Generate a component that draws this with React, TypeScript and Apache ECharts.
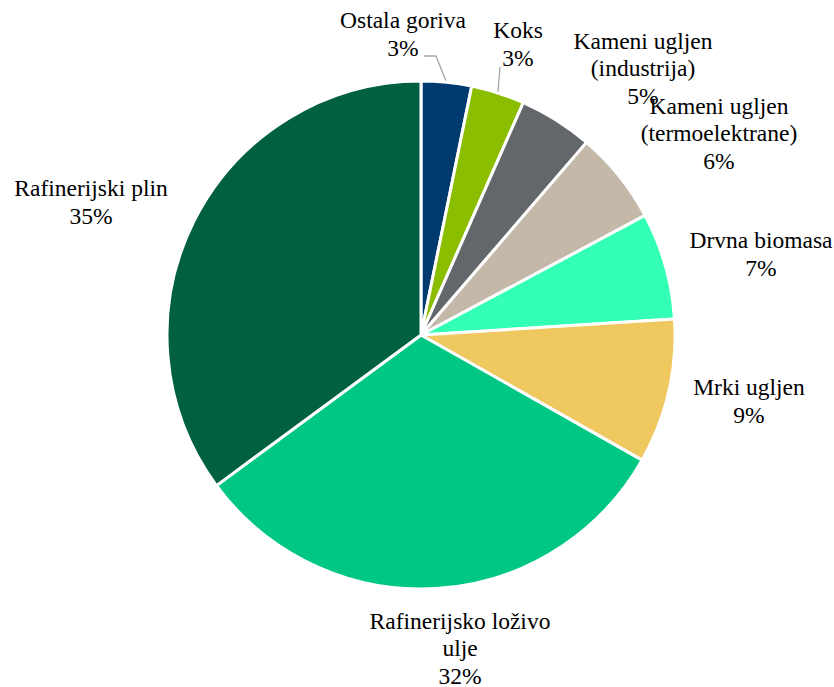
import React, { useEffect, useRef } from "react";
import * as echarts from "echarts";

const categories = [
  "Ostala goriva",
  "Koks",
  "Kameni ugljen\n(industrija)",
  "Kameni ugljen\n(termoelektrane)",
  "Drvna biomasa",
  "Mrki ugljen",
  "Rafinerijsko loživo\nulje",
  "Rafinerijski plin",
];
const values = [3.2, 3.4, 4.7, 5.9, 6.8, 9.2, 31.7, 35.1];
const colors = [
  "#003A6E",
  "#8CBE00",
  "#63666A",
  "#C4B8A9",
  "#33FFB5",
  "#F0C860",
  "#00C882",
  "#006040",
];
const showLine = [true, true, false, false, false, false, false, false];
// label anchor positions (layout, not data)
const labelPos: [number, number][] = [
  [403, 34],
  [518, 44],
  [643, 68],
  [719, 133],
  [761, 254],
  [749, 401],
  [460, 648],
  [91, 202],
];
const leaderLines: ([number, number][] | null)[] = [
  [
    [424, 56],
    [436, 56],
    [446, 81],
  ],
  [
    [500, 67],
    [499, 79],
    [498, 92],
  ],
  null,
  null,
  null,
  null,
  null,
  null,
];

const FONT = "Liberation Serif, Times New Roman, serif";

export default function App() {
  const ref = useRef<HTMLDivElement>(null);
  useEffect(() => {
    if (!ref.current) return;
    const chart = echarts.init(ref.current, null, { renderer: "svg" });
    chart.setOption({
      animation: false,
      backgroundColor: "#ffffff",
      textStyle: { fontFamily: FONT },
      series: [
        {
          type: "pie",
          center: [421, 335],
          radius: [0, 254],
          startAngle: 90,
          clockwise: true,
          avoidLabelOverlap: false,
          itemStyle: { borderColor: "#ffffff", borderWidth: 3 },
          label: {
            show: true,
            position: "outside",
            color: "#000000",
            fontFamily: FONT,
            fontSize: 23.5,
            lineHeight: 27.5,
            align: "center",
            formatter: (p: any) => `${p.name}\n${Math.round(p.value)}%`,
          },
          labelLine: {
            lineStyle: { color: "#A6A6A6", width: 1.3 },
            length: 10,
            length2: 10,
          },
          labelLayout: (p: any) => {
            const o: any = {
              x: labelPos[p.dataIndex][0],
              y: labelPos[p.dataIndex][1],
              align: "center",
              verticalAlign: "middle",
            };
            if (leaderLines[p.dataIndex]) o.labelLinePoints = leaderLines[p.dataIndex];
            return o;
          },
          data: categories.map((name, i) => ({
            name,
            value: values[i],
            itemStyle: { color: colors[i] },
            labelLine: { show: showLine[i] },
          })),
        },
      ],
    });
    return () => chart.dispose();
  }, []);
  return (
    <div
      ref={ref}
      style={{ position: "fixed", left: 0, top: 0, width: 834, height: 687 }}
    />
  );
}
